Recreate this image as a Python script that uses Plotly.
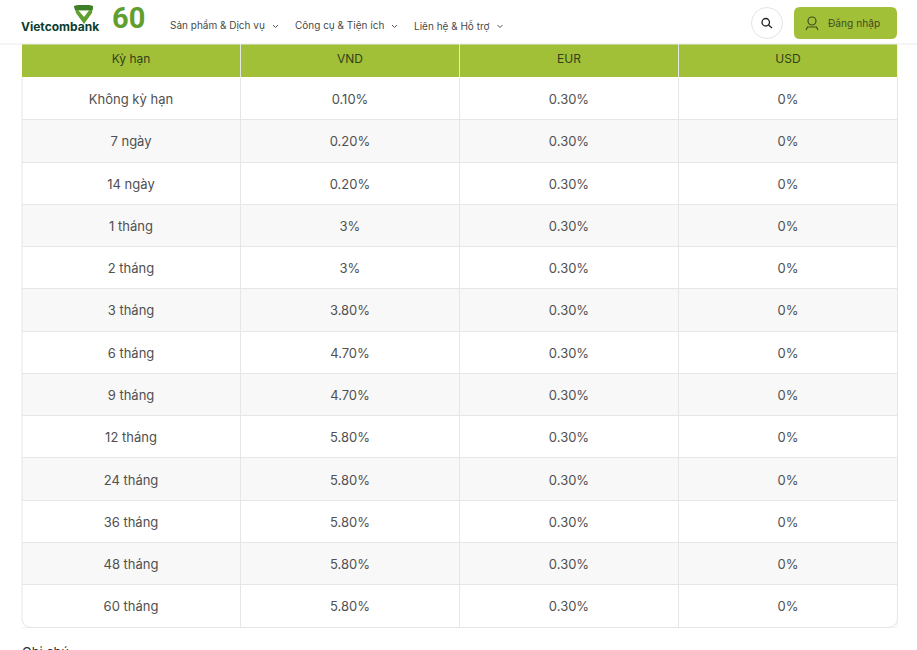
import plotly.graph_objects as go
from plotly.subplots import make_subplots

# dữ liệu lãi suất
ky_han = ['Không kỳ hạn', '7 ngày', '14 ngày', '1 tháng', '2 tháng', '3 tháng', '6 tháng',
          '9 tháng', '12 tháng', '24 tháng', '36 tháng', '48 tháng', '60 tháng']
vnd = ['0.10%', '0.20%', '0.20%', '3%', '3%', '3.80%', '4.70%', '4.70%', '5.80%', '5.80%', '5.80%', '5.80%', '5.80%']
eur = ['0.30%'] * 13
usd = ['0%'] * 13
headers = ['Kỳ hạn', 'VND', 'EUR', 'USD']

W, H = 917, 650
FONT = 'Inter'
GREEN = '#a2c037'
LOGO = '#5f9e2f'
TEXT = '#505050'
LINE = '#e6e6e6'


def px(x):
    return x / W


def py(y):
    return 1 - y / H


def path(points, close=False):
    s = 'M' + ' L'.join(f'{px(x):.5f},{py(y):.5f}' for x, y in points)
    return s + (' Z' if close else '')


def rounded(x0, y0, x1, y1, r):
    return (f'M{px(x0 + r):.5f},{py(y0):.5f} L{px(x1 - r):.5f},{py(y0):.5f} '
            f'Q{px(x1):.5f},{py(y0):.5f} {px(x1):.5f},{py(y0 + r):.5f} '
            f'L{px(x1):.5f},{py(y1 - r):.5f} Q{px(x1):.5f},{py(y1):.5f} {px(x1 - r):.5f},{py(y1):.5f} '
            f'L{px(x0 + r):.5f},{py(y1):.5f} Q{px(x0):.5f},{py(y1):.5f} {px(x0):.5f},{py(y1 - r):.5f} '
            f'L{px(x0):.5f},{py(y0 + r):.5f} Q{px(x0):.5f},{py(y0):.5f} {px(x0 + r):.5f},{py(y0):.5f} Z')


# khung bảng: hai cạnh bên và đáy bo góc, không che hàng tiêu đề
def frame(x0, y0, x1, y1, r):
    return (f'M{px(x1):.5f},{py(y0):.5f} L{px(x1):.5f},{py(y1 - r):.5f} '
            f'Q{px(x1):.5f},{py(y1):.5f} {px(x1 - r):.5f},{py(y1):.5f} '
            f'L{px(x0 + r):.5f},{py(y1):.5f} Q{px(x0):.5f},{py(y1):.5f} {px(x0):.5f},{py(y1 - r):.5f} '
            f'L{px(x0):.5f},{py(y0):.5f}')


rows = list(zip(ky_han, vnd, eur, usd))
row_ids = list(range(len(rows)))
col_ids = list(range(len(headers)))

fig = make_subplots(rows=2, cols=1, row_heights=[33, 551], vertical_spacing=0, shared_xaxes=True)

# hàng tiêu đề
fig.add_trace(go.Heatmap(
    z=[[1] * 4], x=col_ids, y=[0], text=[headers], texttemplate='%{text}',
    textfont=dict(family=FONT, size=12, color='#33401a'),
    colorscale=[[0, GREEN], [1, GREEN]], showscale=False, xgap=1, hoverinfo='skip',
), row=1, col=1)

# các hàng lãi suất, sọc xen kẽ
fig.add_trace(go.Heatmap(
    z=[[i % 2] * 4 for i in row_ids], x=col_ids, y=row_ids, text=[list(r) for r in rows], texttemplate='%{text}',
    textfont=dict(family=FONT, size=13, color=TEXT),
    colorscale=[[0, '#ffffff'], [1, '#f8f8f8']], showscale=False, xgap=1, ygap=1, hoverinfo='skip',
), row=2, col=1)

fig.update_xaxes(visible=False, domain=[px(22), px(897.5)], range=[-0.5, 3.5])
fig.update_yaxes(visible=False, fixedrange=True)
# tiêu đề cao hơn 44px một chút để chữ nằm đúng chỗ, phần thừa bị thanh menu che
fig.update_yaxes(domain=[py(77), py(40)], range=[-0.5, 0.5], row=1, col=1)
fig.update_yaxes(domain=[py(627.5), py(78)], range=[12.5, -0.5], row=2, col=1)

shapes = [
    # thanh menu trắng
    dict(type='rect', x0=0, x1=1, y0=py(44), y1=1, fillcolor='#ffffff', line=dict(width=0)),
    dict(type='line', x0=0, x1=1, y0=py(44), y1=py(44), line=dict(color='#ebebeb', width=1)),
    # khung bo góc của bảng
    dict(type='path', path=frame(22, 77, 897.5, 627.5, 10), line=dict(color=LINE, width=1)),
    # logo
    dict(type='path', path=path([(74, 6), (79, 5), (88, 5), (93, 6), (92, 13), (84, 24), (76, 13)], True),
         fillcolor=LOGO, line=dict(width=0)),
    dict(type='path', path=path([(74, 6), (79, 5), (88, 5), (93, 6), (92.5, 10), (75, 10)], True),
         fillcolor='#3f7f2a', line=dict(width=0)),
    dict(type='path', path=path([(78.5, 10.5), (89, 10.5), (84, 17)], True), fillcolor='#ffffff', line=dict(width=0)),
    # nút tìm kiếm
    dict(type='circle', x0=px(751.5), x1=px(782.5), y0=py(38.5), y1=py(7.5),
         fillcolor='#ffffff', line=dict(color='#e4e4e4', width=1)),
    dict(type='circle', x0=px(762), x1=px(769.5), y0=py(26), y1=py(18.5), line=dict(color='#222222', width=1.3)),
    dict(type='line', x0=px(768.5), x1=px(772), y0=py(25), y1=py(28), line=dict(color='#222222', width=1.3)),
    # nút đăng nhập
    dict(type='path', path=rounded(794, 7, 897, 39, 6), fillcolor=GREEN, line=dict(width=0)),
    dict(type='circle', x0=px(808), x1=px(816), y0=py(25), y1=py(17), line=dict(color='#3f4a22', width=1.2)),
    dict(type='path', path=path([(806, 30), (807.5, 27), (816.5, 27), (818, 30)]),
         line=dict(color='#3f4a22', width=1.2)),
]

# mũi tên menu
for cx in (275.5, 394.5, 500):
    shapes.append(dict(type='path', path=path([(cx - 2.5, 25), (cx, 27.5), (cx + 2.5, 25)]),
                       line=dict(color='#555555', width=1)))

for s in shapes:
    s.update(xref='paper', yref='paper')

fig.update_layout(width=W, height=H, margin=dict(l=0, r=0, t=0, b=0), paper_bgcolor='white',
                  plot_bgcolor=LINE, shapes=shapes)


def label(x, y, text, size, color, family=FONT):
    fig.add_annotation(x=px(x), y=py(y), xref='paper', yref='paper', text=text, showarrow=False,
                       xanchor='left', yanchor='middle', font=dict(family=family, size=size, color=color))


label(19, 26, '<b>Vietcombank</b>', 12, '#0b3d2e')
label(110, 18, '<b>60</b>', 29, LOGO, family='Roboto')
label(168, 25.5, 'Sản phẩm &amp; Dịch vụ', 10, '#4a4a4a')
label(293, 25.5, 'Công cụ &amp; Tiện ích', 10, '#4a4a4a')
label(412, 25.5, 'Liên hệ &amp; Hỗ trợ', 10, '#4a4a4a')
label(826, 23.5, 'Đăng nhập', 10.2, '#3f4a22')
label(20, 652, 'Ghi chú', 13, '#333333')

fig.write_html('out.html', config=dict(displayModeBar=False), post_script="document.body.style.margin='0';")
